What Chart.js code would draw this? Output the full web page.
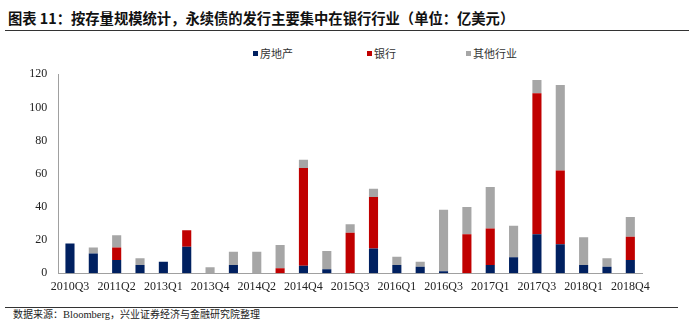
<!DOCTYPE html>
<html>
<head>
<meta charset="utf-8">
<script src="https://cdn.jsdelivr.net/npm/chart.js@4"></script>
<style>
  html, body { margin: 0; padding: 0; background: #fff; }
  body { width: 700px; height: 326px; position: relative; overflow: hidden; }
  .title {
    position: absolute; left: 8px; top: 7px;
    font: bold 14.3px 'Noto Sans CJK SC', sans-serif; color: #111; white-space: nowrap;
  }
  .rule { position: absolute; left: 5px; height: 0; border-top: 1.5px solid #333; }
  .source {
    position: absolute; left: 13px; top: 306px;
    font: 10.5px 'Liberation Serif', 'Noto Sans CJK SC', serif; color: #222; white-space: nowrap;
  }
  .source span { font-family: 'Noto Sans CJK SC', sans-serif; font-size: 10px; }
  .legend { position: absolute; top: 45px; left: 0; font: 11px 'Noto Sans CJK SC', sans-serif; color: #333; }
  .legend div { position: absolute; white-space: nowrap; }
  .legend i { display: inline-block; width: 5px; height: 5px; margin-right: 2px; vertical-align: 2px; }
  .wrap { position: absolute; left: 0; top: 56px; width: 700px; height: 240px; }
</style>
</head>
<body>
<div class="title">图表 11：按存量规模统计，永续债的发行主要集中在银行行业（单位：亿美元）</div>
<div class="rule" style="top:30px; width:684px;"></div>
<div class="legend" id="legend"></div>
<div class="wrap"><canvas id="chart" width="700" height="240"></canvas></div>
<div class="rule" style="top:307px; width:673px;"></div>
<div class="source"><span>数据来源：</span>Bloomberg<span>，兴业证券经济与金融研究院整理</span></div>

<script>
// quarters with issuance (empty quarters are left out, as in the source)
const quarters = ['2010Q3', '2010Q4', '2011Q2', '2012Q3', '2013Q1', '2013Q3', '2013Q4', '2014Q1', '2014Q2', '2014Q3',
  '2014Q4', '2015Q2', '2015Q3', '2015Q4', '2016Q1', '2016Q2', '2016Q3', '2016Q4', '2017Q1', '2017Q2',
  '2017Q3', '2017Q4', '2018Q1', '2018Q3', '2018Q4'];

// 亿美元
const realEstate = [18, 12, 8, 5, 7, 16, 0, 5, 0, 0, 4.5, 2.5, 0, 15, 5, 4, 1.3, 0, 5, 9.7, 23.5, 17.5, 5, 4, 8];
const banks = [0, 0, 7.5, 0, 0, 10, 0, 0, 0, 3, 59, 0, 24.5, 31, 0, 0, 0, 23.5, 22, 0, 85, 44.5, 0, 0, 14];
const others = [0, 3.6, 7.5, 4, 0, 0, 3.6, 8, 13, 14, 5, 11, 5, 5, 5, 3, 37, 16.5, 25, 19, 8, 51.5, 16.7, 5, 12];

const seriesNames = ['房地产', '银行', '其他行业'];
const yTicks = [0, 20, 40, 60, 80, 100, 120];

const colors = ['#002060', '#C00000', '#A6A6A6'];
const serif = "'Liberation Serif', 'Times New Roman', serif";

const chart = new Chart(document.getElementById('chart'), {
  type: 'bar',
  data: {
    labels: quarters,
    datasets: [realEstate, banks, others].map((d, i) => ({
      label: seriesNames[i],
      data: d,
      backgroundColor: colors[i],
      barPercentage: 0.39,
      categoryPercentage: 1
    }))
  },
  options: {
    responsive: false,
    animation: false,
    layout: { padding: { top: 7, right: 58, bottom: 0, left: 0 } },
    plugins: { legend: { display: false }, tooltip: { enabled: false } },
    scales: {
      x: {
        stacked: true,
        grid: { display: false, drawTicks: false },
        border: { display: true, color: '#A0A0A0', width: 1 },
        ticks: {
          autoSkip: false, maxRotation: 0, padding: 6,
          color: '#222', font: { family: serif, size: 12 },
          callback: (v, i) => (i % 2 === 0 ? quarters[i] : '')
        },
        afterFit: s => { s.height = 22.7; }
      },
      y: {
        stacked: true,
        min: 0, max: 120,
        afterBuildTicks: s => { s.ticks = yTicks.map(v => ({ value: v })); },
        grid: { display: false, drawTicks: false },
        border: { display: true, color: '#A0A0A0', width: 1 },
        ticks: { padding: 11, color: '#222', font: { family: serif, size: 12 } },
        afterFit: s => { s.width = 58.3; }
      }
    }
  }
});

// legend placed like the source (not centred)
const legendLeft = [253, 367, 466];
const legend = document.getElementById('legend');
chart.data.datasets.forEach((ds, i) => {
  const item = document.createElement('div');
  item.style.left = legendLeft[i] + 'px';
  item.innerHTML = '<i style="background:' + ds.backgroundColor + '"></i>' + ds.label;
  legend.appendChild(item);
});
</script>
</body>
</html>
